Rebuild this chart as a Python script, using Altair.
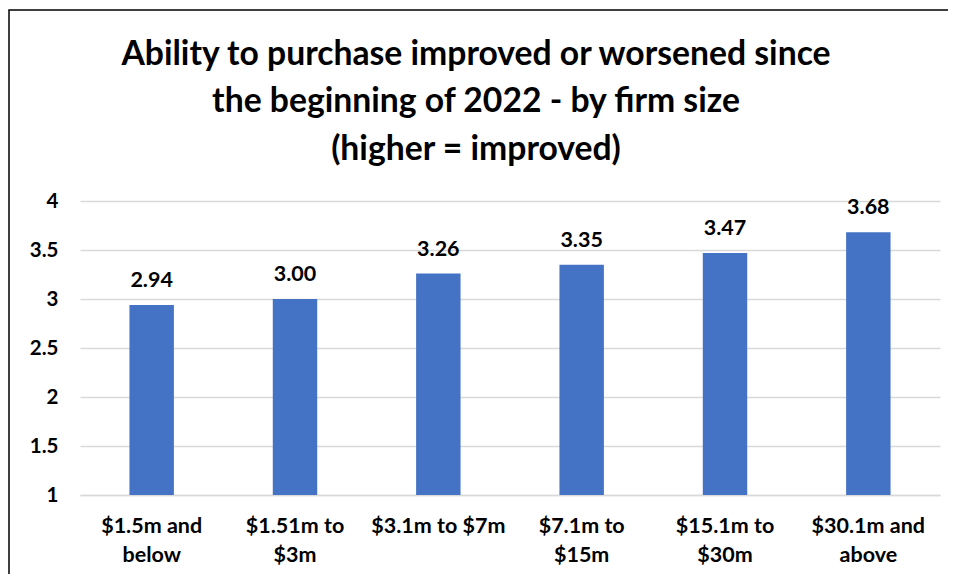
import altair as alt
import pandas as pd

categories = ["$1.5m and|below", "$1.51m to|$3m", "$3.1m to $7m", "$7.1m to|$15m", "$15.1m to|$30m", "$30.1m and|above"]
values = [2.94, 3.00, 3.26, 3.35, 3.47, 3.68]
title_lines = ["Ability to purchase improved or worsened since",
               "the beginning of 2022 - by firm size",
               "(higher = improved)"]

df = pd.DataFrame({"cat": categories, "val": values})
FONT = "Lato"

x = alt.X("cat:N", sort=categories, title=None,
          scale=alt.Scale(paddingInner=0.69, paddingOuter=0.345),
          axis=alt.Axis(labelExpr="split(datum.label, '|')", labelAngle=0,
                        labelFont=FONT, labelFontSize=21.5, labelFontWeight="bold",
                        labelColor="black", labelPadding=20, labelLineHeight=29,
                        ticks=False, domain=True, domainColor="#D9D9D9", domainWidth=1.5))
y = alt.Y("val:Q", title=None,
          scale=alt.Scale(domain=[1, 4], nice=False, zero=False),
          axis=alt.Axis(values=[1, 1.5, 2, 2.5, 3, 3.5, 4], format=".1~f",
                        labelFont=FONT, labelFontSize=20.5, labelFontWeight="bold",
                        labelColor="black", labelPadding=22, ticks=False, domain=False,
                        gridColor="#D9D9D9", gridWidth=1.5))

bars = alt.Chart(df).mark_bar(color="#4472C4").encode(x=x, y=y, y2=alt.datum(1))
labels = alt.Chart(df).mark_text(font=FONT, fontSize=21.5, fontWeight="bold", color="black",
                                 baseline="alphabetic", dy=-18).encode(
    x=alt.X("cat:N", sort=categories), y="val:Q", text=alt.Text("val:Q", format=".2f"))
frame = alt.Chart(alt.Data(values=[{}])).mark_rect(fill=None, stroke="black", strokeWidth=1.5, clip=False).encode(
    x=alt.value(-71), y=alt.value(-191), x2=alt.value(1000), y2=alt.value(600))

chart = alt.layer(frame, bars, labels).properties(
    width=860, height=294,
    autosize=alt.AutoSizeParams(type="none"),
    padding={"left": 72, "top": 193, "right": 8, "bottom": 79},
    title=alt.TitleParams(title_lines, font=FONT, fontSize=33.7, fontWeight="bold", color="black",
                          lineHeight=47.5, anchor="middle", frame="group", dx=-34, offset=-157),
).configure_view(stroke=None)

chart.save("out.html", embed_options={"renderer": "svg", "actions": False})
